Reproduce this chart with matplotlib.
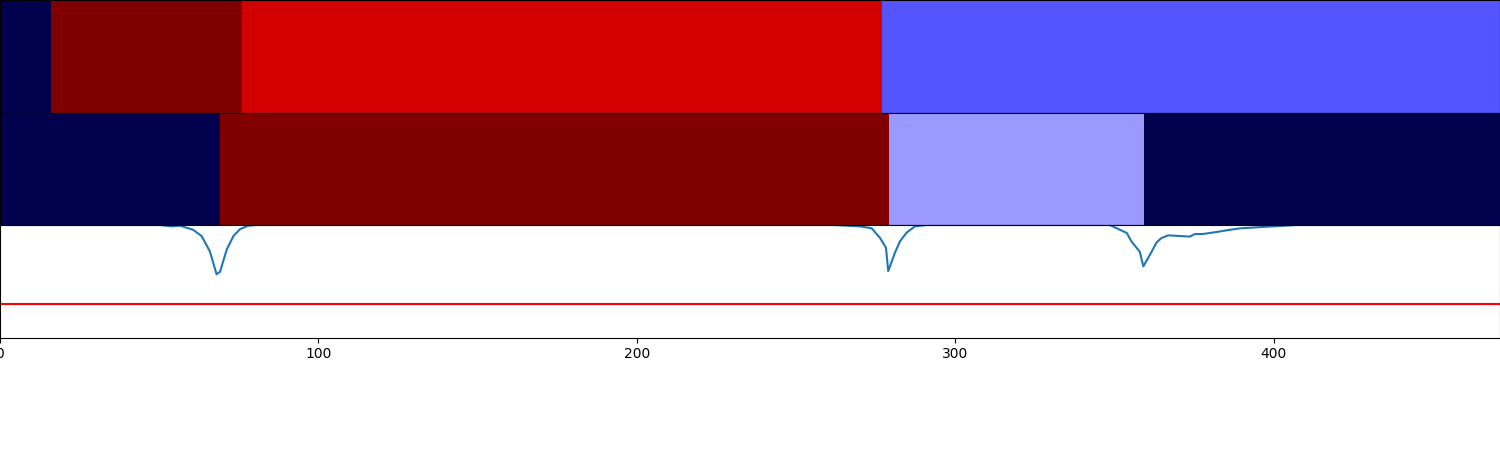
import matplotlib
matplotlib.use("Agg")
import matplotlib.pyplot as plt
import numpy as np

# Segment boundaries (x units) and colour values (seismic colormap, 0..1)
top_edges = [0, 16.0, 76.0, 277.1, 471]
top_values = [0.0, 1.0, 0.836, 0.335]
mid_edges = [0, 69.1, 279.3, 359.2, 471]
mid_values = [0.0, 1.0, 0.40, 0.0]

# Line series (key points)
line_x = [0, 50.2, 53.9, 56.5, 60.6, 63.3, 65.9, 68.0, 69.1, 71.2, 73.3, 75.4, 78.0, 80.6,
          261.5, 270.0, 273.7, 276.3, 278.2, 278.9, 281.0, 282.6, 284.7, 287.3, 291.0,
          348.5, 353.8, 355.3, 357.9, 359.0, 361.6, 363.2, 364.7, 366.8, 370.5, 373.6,
          375.2, 377.7, 382.0, 385.2, 389.3, 395.6, 407.2, 471]
line_y = [1.0, 1.0, 0.988, 0.994, 0.958, 0.902, 0.766, 0.562, 0.585, 0.782, 0.902, 0.964, 0.994, 1.0,
          1.0, 0.988, 0.971, 0.886, 0.798, 0.590, 0.753, 0.856, 0.933, 0.988, 1.0,
          1.0, 0.929, 0.853, 0.762, 0.632, 0.762, 0.847, 0.884, 0.908, 0.902, 0.897,
          0.920, 0.920, 0.938, 0.953, 0.970, 0.981, 1.0, 1.0]
threshold = 0.30

fig, axes = plt.subplots(3, 1, figsize=(15, 4.5), dpi=100, sharex=True)
fig.subplots_adjust(left=0, right=1, top=1, bottom=0.25, hspace=0)

for ax, edges, vals in ((axes[0], top_edges, top_values), (axes[1], mid_edges, mid_values)):
    ax.pcolormesh(edges, [0, 1], [vals], cmap='seismic', vmin=0, vmax=1)
    ax.set_ylim(0, 1)
    ax.tick_params(left=False, labelleft=False, bottom=False, labelbottom=False)

ax = axes[2]
ax.plot(line_x, line_y, color='#1f77b4')
ax.axhline(threshold, color='red')
ax.set_ylim(0, 1)
ax.set_xlim(0, 471)
ax.set_yticks([])

fig.savefig("out.png", dpi=100)
